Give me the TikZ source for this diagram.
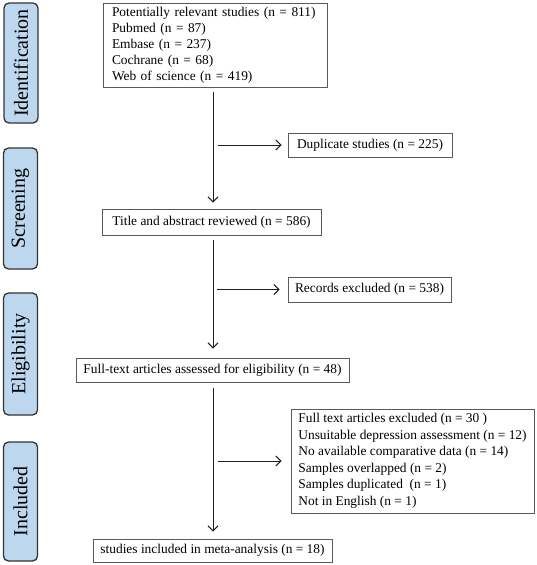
\documentclass[tikz,border=0pt]{standalone}
\usepackage{fontspec}
\setmainfont{Liberation Serif}
\usetikzlibrary{arrows.meta}
\definecolor{sideblue}{HTML}{BDD7EE}
\definecolor{sideedge}{HTML}{333333}
\definecolor{boxedge}{HTML}{5A5A5A}
\definecolor{lineclr}{HTML}{1E1E1E}
\begin{document}
\begin{tikzpicture}[x=1pt,y=-1pt,
  box/.style={draw=boxedge, line width=0.9pt, font=\fontsize{13.4}{16}\selectfont, align=left, inner sep=0pt},
  side/.style={draw=sideedge, fill=sideblue, line width=1.3pt, rounded corners=5pt, minimum height=34pt, inner sep=0pt, font=\fontsize{20}{24}\selectfont, rotate=90},
  arr/.style={draw=lineclr, line width=1pt, -{Straight Barb[length=5pt,width=10pt,line width=1pt]}},
]
\useasboundingbox (0,0) rectangle (536,565);

% side stage labels
\node[side, minimum width=120pt] (sid) at (21,63) {Identification};
\node[side, minimum width=121pt] (sscr) at (20.5,208.5) {Screening};
\node[side, minimum width=122pt] (self) at (20.5,354) {Eligibility};
\node[side, minimum width=119pt] (sinc) at (20.5,501.5) {Included};

% main boxes
\node[box, text width=206pt, inner xsep=9pt, minimum height=84pt] (box1) at (215,45)
  {Potentially relevant studies (n = 811)\\Pubmed (n = 87)\\Embase (n = 237)\\Cochrane (n = 68)\\Web of science (n = 419)};
\node[box, minimum width=164pt, minimum height=24pt] (dup) at (370,145) {Duplicate studies (n = 225)};
\node[box, minimum width=219pt, minimum height=26pt] (title) at (211.5,222) {Title and abstract reviewed (n = 586)};
\node[box, minimum width=163pt, minimum height=25pt] (rec) at (369.5,289.5) {Records excluded (n = 538)};
\node[box, minimum width=273pt, minimum height=24pt] (full) at (212.5,370) {Full-text articles assessed for eligibility (n = 48)};
\node[box, minimum width=243pt, minimum height=104pt, font=\fontsize{13.4}{16.5}\selectfont] (excl) at (412.5,461)
  {Full text articles excluded (n = 30 )\\Unsuitable depression assessment (n = 12)\\No available comparative data (n = 14)\\Samples overlapped (n = 2)\\Samples duplicated\ \ (n = 1)\\Not in English (n = 1)};
\node[box, minimum width=239pt, minimum height=23pt] (final) at (212.5,550.5) {studies included in meta-analysis (n = 18)};

% axis of main flow
\coordinate (ax) at (213,0);
\coordinate (b1) at (dup.west -| ax);
\coordinate (b2) at (rec.west -| ax);
\coordinate (b3) at (excl.west -| ax);

% vertical arrows
\draw[arr] ([yshift=-5pt]box1.south -| ax) -- ([yshift=6pt]title.north -| ax);
\draw[arr] ([yshift=-5pt]title.south -| ax) -- ([yshift=9pt]full.north -| ax);
\draw[arr] ([yshift=-6pt]full.south -| ax) -- ([yshift=7pt]final.north -| ax);

% side branches
\draw[arr] ([xshift=5pt]b1) -- ([xshift=-6pt]dup.west);
\draw[arr] ([xshift=4pt]b2) -- ([xshift=-8pt]rec.west);
\draw[arr] ([xshift=5pt]b3) -- ([xshift=-9pt]excl.west);
\end{tikzpicture}
\end{document}
